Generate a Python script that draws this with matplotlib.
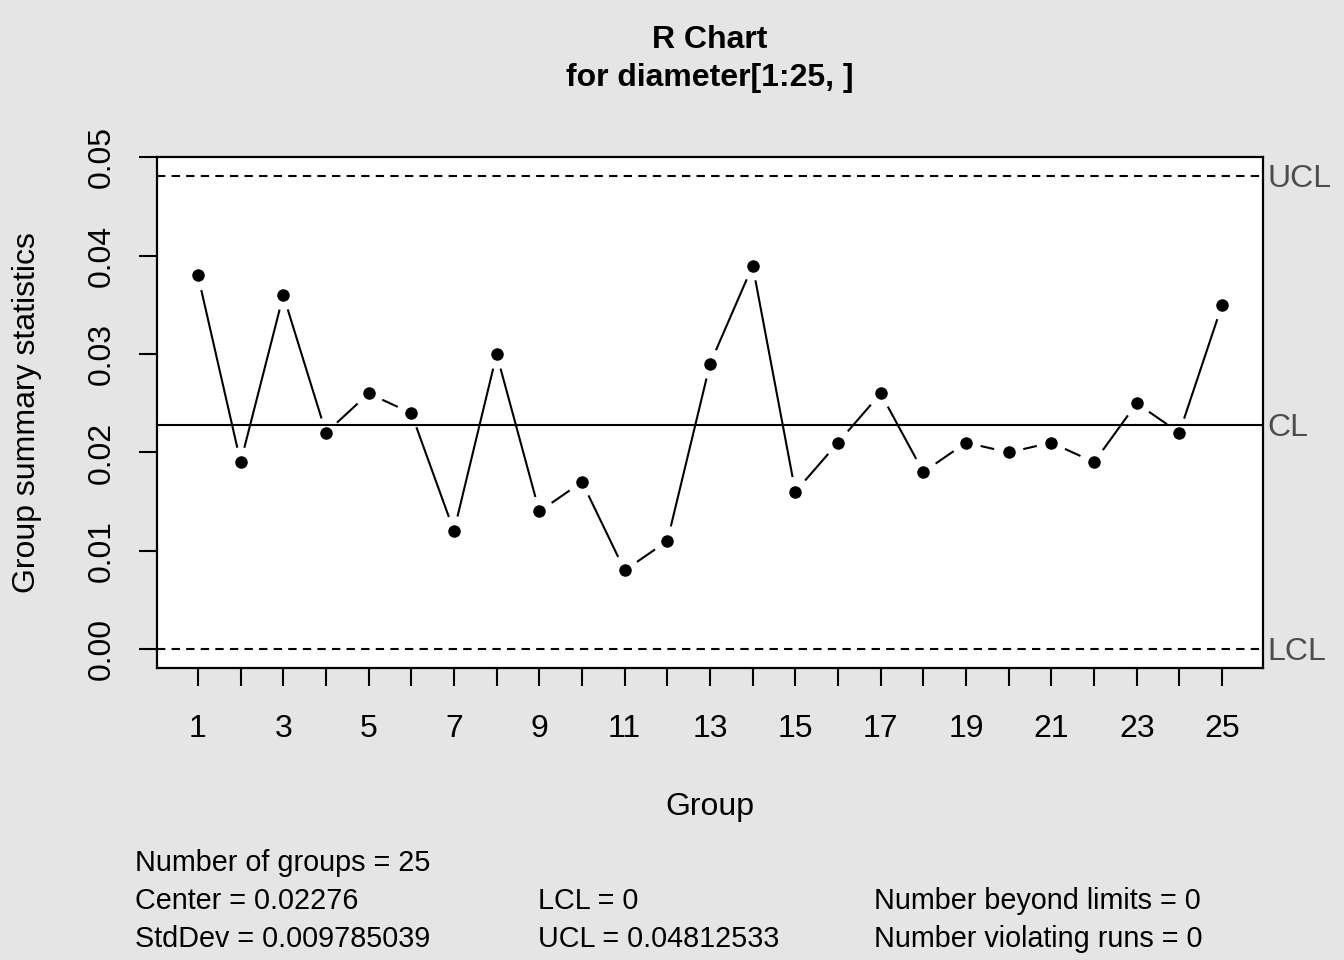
import numpy as np
import matplotlib.pyplot as plt
from matplotlib.transforms import offset_copy

plt.rcParams['font.family'] = ['Liberation Sans', 'DejaVu Sans']

groups = np.arange(1, 26)
ranges = [0.038, 0.019, 0.036, 0.022, 0.026, 0.024, 0.012, 0.030, 0.014, 0.017,
          0.008, 0.011, 0.029, 0.039, 0.016, 0.021, 0.026, 0.018, 0.021, 0.020,
          0.021, 0.019, 0.025, 0.022, 0.035]
center = 0.02276
lcl = 0.0
ucl = 0.04812533
stddev = 0.009785039
y_ticks = [0.00, 0.01, 0.02, 0.03, 0.04, 0.05]
y_ticklabels = ['0.00', '0.01', '0.02', '0.03', '0.04', '0.05']

W, H = 1344, 960
fig = plt.figure(figsize=(W / 100, H / 100), dpi=100, facecolor='#e5e5e5')
# plot region in pixels: x 157..1263, y 157..668
ax = fig.add_axes([157 / W, 1 - 668 / H, (1263 - 157) / W, (668 - 157) / H])
ax.set_facecolor('white')

ax.set_xlim(0.04, 25.96)
ax.set_ylim(-0.001925, 0.05005)

# control lines
ax.axhline(center, color='black', lw=1.5)
ax.axhline(ucl, color='black', lw=1.5, ls=(0, (4, 3)))
ax.axhline(lcl, color='black', lw=1.5, ls=(0, (4, 3)))

# connecting segments with gaps around the points (like R type="b")
fig.canvas.draw()
pts = ax.transData.transform(np.column_stack([groups, ranges]))
gap = 16
inv = ax.transData.inverted()
for i in range(len(pts) - 1):
    p0, p1 = pts[i], pts[i + 1]
    d = p1 - p0
    L = np.hypot(*d)
    if L <= 2 * gap:
        continue
    u = d / L
    a = inv.transform(p0 + u * gap)
    b = inv.transform(p1 - u * gap)
    ax.plot([a[0], b[0]], [a[1], b[1]], color='black', lw=1.5)

ax.plot(groups, ranges, 'o', color='black', ms=8, ls='none')

for sp in ax.spines.values():
    sp.set_linewidth(1.6)

fs_main = 23
ax.set_xticks(groups)
ax.set_xticklabels([str(g) if g % 2 == 1 else '' for g in groups], fontsize=fs_main)
ax.set_yticks(y_ticks)
ax.set_yticklabels(y_ticklabels, fontsize=fs_main, rotation=90, va='center')
ax.tick_params(axis='both', length=13, width=1.5, direction='out')
ax.tick_params(axis='x', pad=20)
ax.tick_params(axis='y', pad=16)

ax.set_xlabel('Group', fontsize=fs_main, labelpad=35)
ax.set_ylabel('Group summary statistics', fontsize=fs_main, labelpad=32)

fig.text(710 / W, 1 - 40 / H, 'R Chart', ha='center', va='center',
         fontsize=fs_main, fontweight='bold')
fig.text(710 / W, 1 - 78 / H, 'for diameter[1:25, ]', ha='center', va='center',
         fontsize=fs_main, fontweight='bold')

lab_col = '#4d4d4d'
lab_tr = offset_copy(ax.get_yaxis_transform(), fig=fig, x=0, y=-3, units='dots')
ax.text(1.004, ucl, 'UCL', transform=lab_tr, color=lab_col,
        fontsize=fs_main, ha='left', va='center')
ax.text(1.004, center, 'CL', transform=lab_tr, color=lab_col,
        fontsize=fs_main, ha='left', va='center')
ax.text(1.004, lcl, 'LCL', transform=lab_tr, color=lab_col,
        fontsize=fs_main, ha='left', va='center')

fs = 20.7
fig.text(135 / W, 1 - 863 / H, 'Number of groups = %d' % len(groups), fontsize=fs, va='center')
fig.text(135 / W, 1 - 901 / H, 'Center = %s' % center, fontsize=fs, va='center')
fig.text(135 / W, 1 - 939 / H, 'StdDev = %s' % stddev, fontsize=fs, va='center')
fig.text(538 / W, 1 - 901 / H, 'LCL = %g' % lcl, fontsize=fs, va='center')
fig.text(538 / W, 1 - 939 / H, 'UCL = %s' % ucl, fontsize=fs, va='center')
fig.text(874 / W, 1 - 901 / H, 'Number beyond limits = 0', fontsize=fs, va='center')
fig.text(874 / W, 1 - 939 / H, 'Number violating runs = 0', fontsize=fs, va='center')

fig.savefig('out.png', dpi=100, facecolor=fig.get_facecolor())
